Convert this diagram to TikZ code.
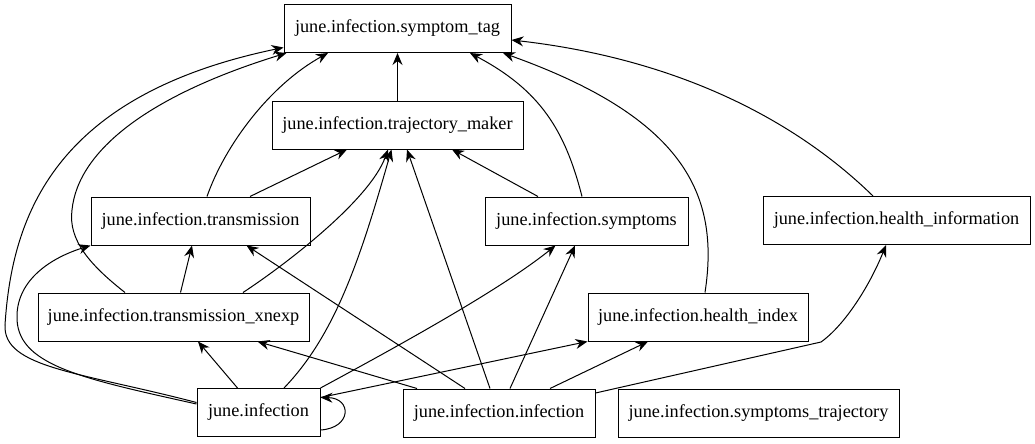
\documentclass[tikz,border=0pt]{standalone}
\usepackage{fontspec}
\setmainfont{Liberation Serif}
\usetikzlibrary{arrows.meta,calc}
\begin{document}
\begin{tikzpicture}[x=0.75pt,y=-0.75pt,
  mod/.style={draw,line width=0.75pt,minimum height=36pt,inner xsep=3pt,font=\fontsize{13.7pt}{16pt}\selectfont},
  imp/.style={line width=0.75pt,-{Stealth[length=9pt,width=7.5pt,inset=3pt]}}]
\useasboundingbox (0,0) rectangle (1035,443);
\node[mod,minimum width=170.25pt] (tag) at (397.5,28.5) {june.infection.symptom\_tag};
\node[mod,minimum width=188.25pt] (tm) at (397.5,125) {june.infection.trajectory\_maker};
\node[mod,minimum width=164.25pt] (tr) at (200.5,221) {june.infection.transmission};
\node[mod,minimum width=152.25pt] (sy) at (586.5,221) {june.infection.symptoms};
\node[mod,minimum width=200.25pt] (hinf) at (896.5,220.5) {june.infection.health\_information};
\node[mod,minimum width=203.25pt] (xn) at (173.5,317) {june.infection.transmission\_xnexp};
\node[mod,minimum width=165pt] (hi) at (698,317) {june.infection.health\_index};
\node[mod,minimum width=92.25pt] (ji) at (258.5,412.5) {june.infection};
\node[mod,minimum width=144pt] (ii) at (499,413) {june.infection.infection};
\node[mod,minimum width=210.75pt] (st) at (758.5,413) {june.infection.symptoms\_trajectory};
\draw[imp] (tm) -- (tag);
\draw[imp] ($(tr.north)+(6.5,0)$) .. controls (225,145) and (270,85) .. ($(tag.south)+(-69.5,0)$);
\draw[imp] ($(xn.north)+(-48.5,0)$) .. controls (90,265) and (68,240) .. (72,210) .. controls (78,150) and (150,95) .. ($(tag.south west)+(3,0)$);
\draw[imp] ($(ji.west)+(0,-10)$) .. controls (80,372) and (3,368) .. (5,325) .. controls (12,215) and (55,95) .. ($(tag.west)+(0,19)$);
\draw[imp] ($(sy.north)+(-4.5,0)$) .. controls (565,130) and (540,90) .. ($(tag.south)+(72.5,0)$);
\draw[imp] ($(hi.north)+(7,0)$) .. controls (720,195) and (685,118) .. ($(tag.south)+(105.5,0)$);
\draw[imp] ($(hinf.north)+(-23.5,0)$) .. controls (790,115) and (670,58) .. ($(tag.east)+(0,11.5)$);
\draw[imp] ($(tr.north)+(49.5,0)$) -- ($(tm.south)+(-50.5,0)$);
\draw[imp] ($(xn.north)+(69.5,0)$) .. controls (285,265) and (370,200) .. ($(tm.south)+(-9.5,0)$);
\draw[imp] ($(ji.north)+(25.5,0)$) .. controls (335,335) and (360,260) .. ($(tm.south)+(-6,0)$);
\draw[imp] ($(ii.north)+(-9,0)$) -- ($(tm.south)+(9.5,0)$);
\draw[imp] ($(sy.north)+(-48.5,0)$) -- ($(tm.south)+(54.5,0)$);
\draw[imp] ($(xn.north)+(7,0)$) -- ($(tr.south)+(-8.5,0)$);
\draw[imp] ($(ii.north)+(-34,0)$) -- ($(tr.south)+(46,0)$);
\draw[imp] ($(ji.west)+(0,-8.5)$) .. controls (80,378) and (15,365) .. (17,315) .. controls (18,280) and (50,258) .. (tr.south west);
\draw[imp] ($(ji.north)+(-21,0)$) -- ($(xn.south)+(24.5,0)$);
\draw[imp] ($(ii.north)+(-82,0)$) -- ($(xn.south)+(84,0)$);
\draw[imp] (ji.north east) .. controls (400,345) and (500,290) .. ($(sy.south)+(-31,0)$);
\draw[imp] ($(ii.north)+(11,0)$) -- ($(sy.south)+(-11.5,0)$);
\draw[imp] ($(ji.east)+(0,-15)$) -- (hi.south west);
\draw[imp] ($(ii.north)+(51,0)$) -- ($(hi.south)+(-50,0)$);
\draw[imp] ($(ii.east)+(0,-20)$) -- (821,342) .. controls (845,325) and (870,285) .. ($(hinf.south)+(-10.5,0)$);
\draw[imp] ($(ji.east)+(0,17.5)$) .. controls (352,428) and (352,398) .. ($(ji.east)+(0,-15)$);
\end{tikzpicture}
\end{document}
